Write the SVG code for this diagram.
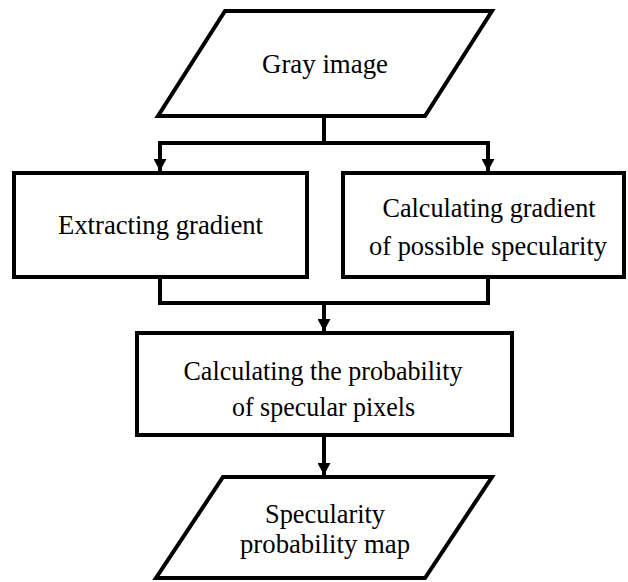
<svg xmlns="http://www.w3.org/2000/svg" width="628" height="582" viewBox="0 0 628 582">
<defs>
<marker id="arr" viewBox="0 0 12 13" refX="12" refY="6.5" markerWidth="12" markerHeight="13" orient="auto" markerUnits="userSpaceOnUse">
<path d="M0,0 L12,6.5 L0,13 Z" fill="#000"/>
</marker>
</defs>
<style>
.shape{fill:#fff;stroke:#000;stroke-width:4;stroke-linejoin:miter}
.conn{fill:none;stroke:#000;stroke-width:4}
.t{font-family:"Liberation Serif","Times New Roman",serif;font-size:28px;fill:#000;text-anchor:middle}
</style>
<rect width="628" height="582" fill="#fff"/>
<g id="connectors">
<path class="conn" d="M324,117 V143 M160,143 H488"/>
<path class="conn" d="M160,141 V171" marker-end="url(#arr)"/>
<path class="conn" d="M488,141 V171" marker-end="url(#arr)"/>
<path class="conn" d="M160,277 V303 H488 V277"/>
<path class="conn" d="M324,301 V331" marker-end="url(#arr)"/>
<path class="conn" d="M324,435 V475" marker-end="url(#arr)"/>
</g>
<g id="gray-image">
<polygon class="shape" points="225,11 492,11 425,116 158,116"/>
<text class="t" x="325" y="73" textLength="126" lengthAdjust="spacingAndGlyphs">Gray image</text>
</g>
<g id="extracting-gradient">
<rect class="shape" x="14" y="173" width="293" height="104"/>
<text class="t" x="160.5" y="234" textLength="205" lengthAdjust="spacingAndGlyphs">Extracting gradient</text>
</g>
<g id="calculating-gradient">
<rect class="shape" x="343" y="173" width="281" height="104"/>
<text class="t" x="489" y="217" textLength="213" lengthAdjust="spacingAndGlyphs">Calculating gradient</text>
<text class="t" x="488" y="255" textLength="238" lengthAdjust="spacingAndGlyphs">of possible specularity</text>
</g>
<g id="probability">
<rect class="shape" x="137" y="333" width="375" height="102"/>
<text class="t" x="323" y="380" textLength="279" lengthAdjust="spacingAndGlyphs">Calculating the probability</text>
<text class="t" x="323.5" y="416" textLength="183" lengthAdjust="spacingAndGlyphs">of specular pixels</text>
</g>
<g id="probability-map">
<polygon class="shape" points="223,477 492,477 425,578 156,578"/>
<text class="t" x="325" y="523" textLength="120" lengthAdjust="spacingAndGlyphs">Specularity</text>
<text class="t" x="325" y="553" textLength="170" lengthAdjust="spacingAndGlyphs">probability map</text>
</g>
</svg>
